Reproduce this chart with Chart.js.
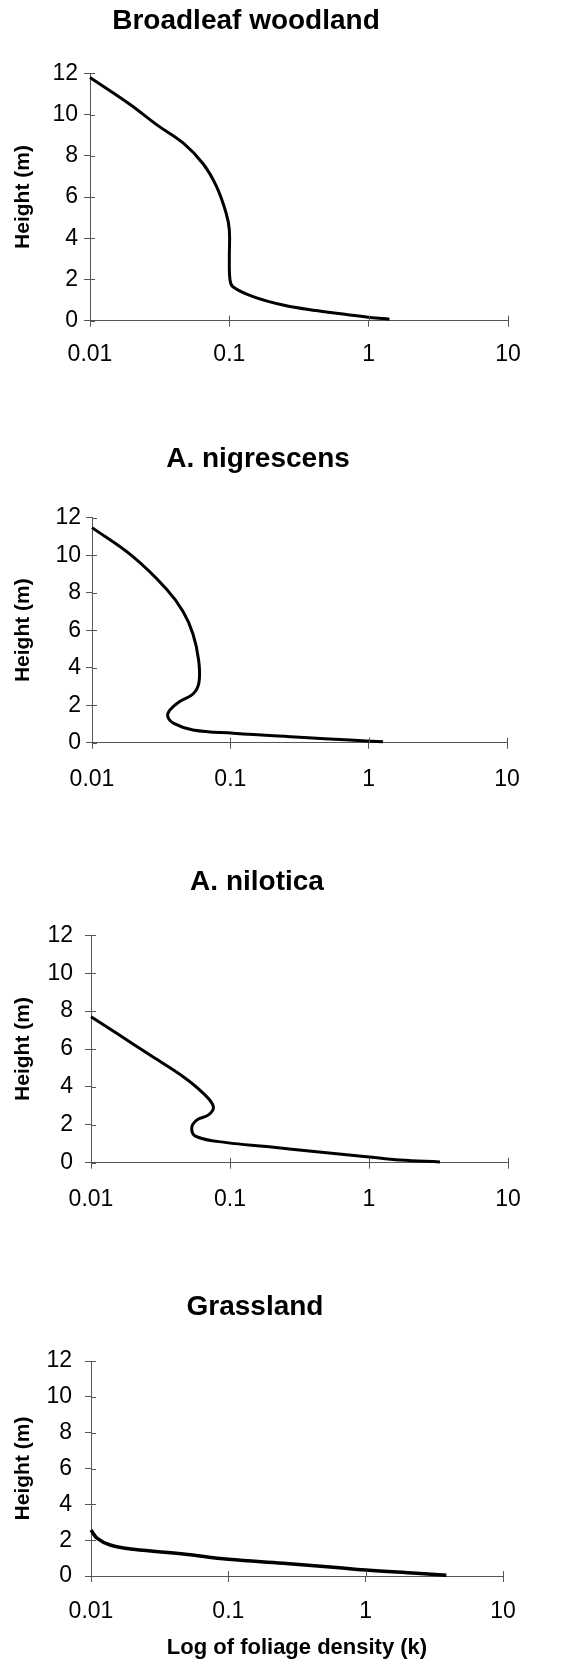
<!DOCTYPE html>
<html>
<head>
<meta charset="utf-8">
<script src="https://cdn.jsdelivr.net/npm/chart.js@4.4.0/dist/chart.umd.min.js"></script>
<style>
  html, body { margin: 0; padding: 0; background: #fff; overflow: hidden; }
  body { position: relative; width: 571px; height: 1666px; }
  .panel { position: absolute; }
  canvas { display: block; }
</style>
</head>
<body>
<div class="panel"><canvas id="c0"></canvas></div>
<div class="panel"><canvas id="c1"></canvas></div>
<div class="panel"><canvas id="c2"></canvas></div>
<div class="panel"><canvas id="c3"></canvas></div>
<script>
// axis ticks shared by every panel
const xTicks = [0.01, 0.1, 1, 10];
const xTickLabels = ['0.01', '0.1', '1', '10'];
const yTicks = [0, 2, 4, 6, 8, 10, 12];

const titles = ['Broadleaf woodland', 'A. nigrescens', 'A. nilotica', 'Grassland'];

// foliage density profiles, listed from canopy top down to the ground
const broadleafHeight = [11.8, 10.5, 9.5, 8.6, 7.6, 6.5, 5.2, 4.4, 3.0, 2.0, 1.65, 1.17, 0.76, 0.49, 0.28, 0.16, 0.07];
const broadleafDensity = [0.01, 0.0193, 0.0302, 0.047, 0.065, 0.081, 0.095, 0.1, 0.1, 0.101, 0.106, 0.148, 0.243, 0.42, 0.73, 1.02, 1.41];

const nigrescensHeight = [11.47, 10.0, 8.2, 7.0, 5.8, 4.4, 3.2, 2.6, 2.2, 1.74, 1.39, 1.03, 0.68, 0.5, 0.29, 0.14, 0.05];
const nigrescensDensity = [0.01, 0.0192, 0.0345, 0.0455, 0.0537, 0.059, 0.0593, 0.0537, 0.0431, 0.0365, 0.0353, 0.039, 0.0537, 0.105, 0.317, 0.73, 1.27];

const niloticaHeight = [7.7, 6.83, 5.68, 4.54, 3.66, 2.96, 2.52, 2.25, 1.81, 1.37, 1.06, 0.85, 0.58, 0.32, 0.14, 0.04];
const niloticaDensity = [0.01, 0.0153, 0.0266, 0.0461, 0.0643, 0.0759, 0.07, 0.0576, 0.053, 0.0576, 0.0946, 0.184, 0.42, 0.96, 1.67, 3.24];

const grassHeight = [2.57, 2.1, 1.73, 1.49, 1.23, 0.93, 0.71, 0.49, 0.33, 0.15, 0.04];
const grassDensity = [0.01, 0.0111, 0.0138, 0.0204, 0.0471, 0.1, 0.251, 0.58, 1.0, 2.34, 3.87];

const series = [
    [broadleafHeight, broadleafDensity],
    [nigrescensHeight, nigrescensDensity],
    [niloticaHeight, niloticaDensity],
    [grassHeight, grassDensity]
];

const FONT = "'Liberation Sans', Arial, sans-serif";
const AXIS_COLOR = '#555';

// page placement of each panel (plot box edges in page pixels)
const boxes = [
    { top: 0,    left: -16, plotLeft: 90, plotRight: 508, plotTop: 73.3,  plotBottom: 320.7,  height: 381, yPad: 6,  xPad: 14 },
    { top: 438,  left: 9,   plotLeft: 92, plotRight: 507, plotTop: 517.7, plotBottom: 742.7,  height: 365, yPad: 5,  xPad: 17 },
    { top: 861,  left: 6,   plotLeft: 91, plotRight: 508, plotTop: 935.3, plotBottom: 1162.7, height: 362, yPad: 12, xPad: 17 },
    { top: 1286, left: 7,   plotLeft: 91, plotRight: 503, plotTop: 1361,  plotBottom: 1576,   height: 380, yPad: 13, xPad: 16 }
];

// short tick stubs on the inside of both axes, so ticks cross the axis line
const crossTicks = {
    id: 'crossTicks',
    afterDatasetsDraw(chart) {
        const { ctx, chartArea, scales: { x, y } } = chart;
        ctx.save();
        ctx.strokeStyle = AXIS_COLOR;
        ctx.lineWidth = 1;
        ctx.beginPath();
        x.ticks.forEach(t => {
            const px = Math.round(x.getPixelForValue(t.value)) + 0.5;
            ctx.moveTo(px, chartArea.bottom);
            ctx.lineTo(px, chartArea.bottom - 5);
        });
        y.ticks.forEach(t => {
            const py = Math.round(y.getPixelForValue(t.value)) + 0.5;
            ctx.moveTo(chartArea.left, py);
            ctx.lineTo(chartArea.left + 5, py);
        });
        ctx.stroke();
        ctx.restore();
    }
};

function makePanel(idx) {
    const box = boxes[idx];
    const [heights, density] = series[idx];
    const isLast = idx === boxes.length - 1;

    const canvas = document.getElementById('c' + idx);
    const wrap = canvas.parentNode;
    const W = 571 - box.left;
    wrap.style.left = box.left + 'px';
    wrap.style.top = box.top + 'px';
    canvas.width = W;
    canvas.height = box.height;
    canvas.style.width = W + 'px';
    canvas.style.height = box.height + 'px';

    const titleTop = 4;
    const titleBottom = box.plotTop - box.top - titleTop - 28 * 1.2;
    const xHeight = box.top + box.height - box.plotBottom;
    const yWidth = box.plotLeft - box.left;

    new Chart(canvas, {
        type: 'scatter',
        data: {
            datasets: [{
                data: density.map((d, i) => ({ x: d, y: heights[i] })),
                showLine: true,
                borderColor: '#000',
                borderWidth: isLast ? 3.5 : 3,
                borderJoinStyle: 'round',
                pointRadius: 0,
                tension: 0.4,
                fill: false,
                clip: false
            }]
        },
        options: {
            responsive: false,
            animation: false,
            events: [],
            layout: { padding: { left: 0, right: 571 - box.plotRight, top: 0, bottom: 0 } },
            plugins: {
                legend: { display: false },
                tooltip: { enabled: false },
                title: {
                    display: true,
                    text: titles[idx],
                    color: '#000',
                    font: { family: FONT, size: 28, weight: 'bold' },
                    padding: { top: titleTop, bottom: titleBottom }
                }
            },
            scales: {
                x: {
                    type: 'logarithmic',
                    min: 0.01,
                    max: 10,
                    afterBuildTicks: s => { s.ticks = xTicks.map(v => ({ value: v })); },
                    afterFit: s => { s.height = xHeight; },
                    border: { display: true, color: AXIS_COLOR, width: 1 },
                    grid: { drawOnChartArea: false, color: AXIS_COLOR, tickLength: 6 },
                    ticks: {
                        autoSkip: false,
                        maxRotation: 0,
                        padding: box.xPad,
                        color: '#000',
                        font: { family: FONT, size: 23 },
                        callback: v => xTickLabels[xTicks.indexOf(v)]
                    },
                    title: {
                        display: isLast,
                        text: 'Log of foliage density (k)',
                        color: '#000',
                        font: { family: FONT, size: 22, weight: 'bold' },
                        padding: { top: 0, bottom: 5 }
                    }
                },
                y: {
                    type: 'linear',
                    min: 0,
                    max: 12,
                    afterBuildTicks: s => { s.ticks = yTicks.map(v => ({ value: v })); },
                    afterFit: s => { s.width = yWidth; },
                    border: { display: true, color: AXIS_COLOR, width: 1 },
                    grid: { drawOnChartArea: false, color: AXIS_COLOR, tickLength: 6 },
                    ticks: {
                        padding: box.yPad,
                        color: '#000',
                        font: { family: FONT, size: 23 }
                    },
                    title: {
                        display: true,
                        text: 'Height (m)',
                        color: '#000',
                        font: { family: FONT, size: 21, weight: 'bold' },
                        padding: { top: 23 - box.left - 12.6, bottom: 0 }
                    }
                }
            }
        },
        plugins: [crossTicks]
    });
}

boxes.forEach((b, i) => makePanel(i));
</script>
</body>
</html>
